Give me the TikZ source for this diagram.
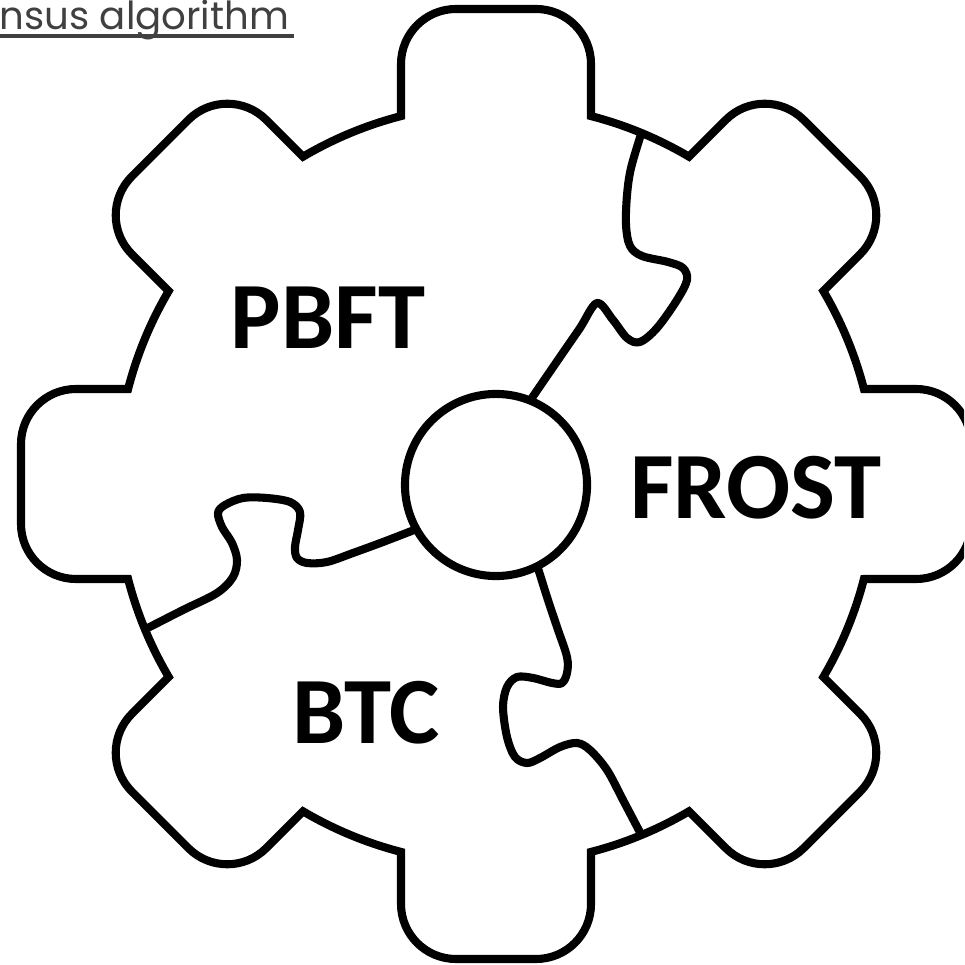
\documentclass[tikz,border=0pt]{standalone}
\usepackage{fontspec}
\setmainfont{Carlito}
\newfontfamily\titlefont{Poppins}
\usetikzlibrary{calc}
\definecolor{titlegray}{RGB}{64,64,64}
\begin{document}
\begin{tikzpicture}[x=0.01cm,y=-0.01cm,
  outline/.style={line width=2.3pt, draw=black},
  divider/.style={outline, line join=round},
  piece label/.style={font=\fontsize{27}{32}\selectfont\bfseries, inner sep=0pt},
  title text/.style={font=\titlefont\fontsize{11}{13}\selectfont, text=titlegray, inner sep=0pt},
  underline/.style={draw=titlegray, line width=1.4pt}]
\useasboundingbox (0,0) rectangle (964,965);
\clip (0,0) rectangle (964,965);

% heading, cut off at the left edge
\node[title text, anchor=base west] (title) at (-1,30) {nsus algorithm};
\draw[underline] ($(title.base west)+(-5,6)$) -- ($(title.base east)+(4,6)$);

% gear outline: eight rounded teeth on a body of radius 380
\begin{scope}[shift={(496,484)}, y=0.01cm]
  \draw[outline] (-14.48:380)
    \foreach \a in {0,45,...,315} {
      -- ([rotate=\a]420,-95)
      arc[start angle=\a-90, end angle=\a, radius=55]
      -- ([rotate=\a]475,40)
      arc[start angle=\a, end angle=\a+90, radius=55]
      -- ([rotate=\a]367.9,95)
      arc[start angle=\a+14.48, end angle=\a+30.52, radius=380]
    } -- cycle;
  \coordinate (seamA) at (67.5:380);
  \coordinate (seamB) at (202.5:380);
  \coordinate (seamC) at (-67.5:380);
\end{scope}

% central hub
\node[outline, circle, fill=white, minimum size=1.82cm, inner sep=0pt, outer sep=0pt] (hub) at (496,485) {};

% puzzle seams between the three pieces
\draw[divider] plot[smooth, tension=0.55] coordinates {
  (hub.68.3) (560,357) (580,328) (597,303) (613,320) (627,338) (640,342)
  (657,328) (677,300) (687,280) (683,268) (668,262) (642,256) (630,246)
  (626,225) (627,195) (631,168) (seamA)};
\draw[divider] plot[smooth, tension=0.55] coordinates {
  (seamB) (183,610) (217,593) (233,577) (237,560) (232,543) (222,527)
  (218,513) (225,505) (243,498) (267,498) (290,502) (300,512) (298,530)
  (295,547) (297,558) (307,563) (327,562) (353,553) (383,542) (hub.209.5)};
\draw[divider] plot[smooth, tension=0.55] coordinates {
  (hub.-63.7) (547,597) (557,627) (567,657) (567,673) (562,683) (552,683)
  (533,678) (517,677) (507,687) (503,707) (507,737) (515,757) (527,763)
  (540,758) (560,747) (577,743) (590,750) (607,770) (623,800) (seamC)};

% piece labels
\node[piece label] (pbft) at (328,318) {PBFT};
\node[piece label] (frost) at (756,488) {FROST};
\node[piece label] (btc) at (366,713) {BTC};
\end{tikzpicture}
\end{document}
